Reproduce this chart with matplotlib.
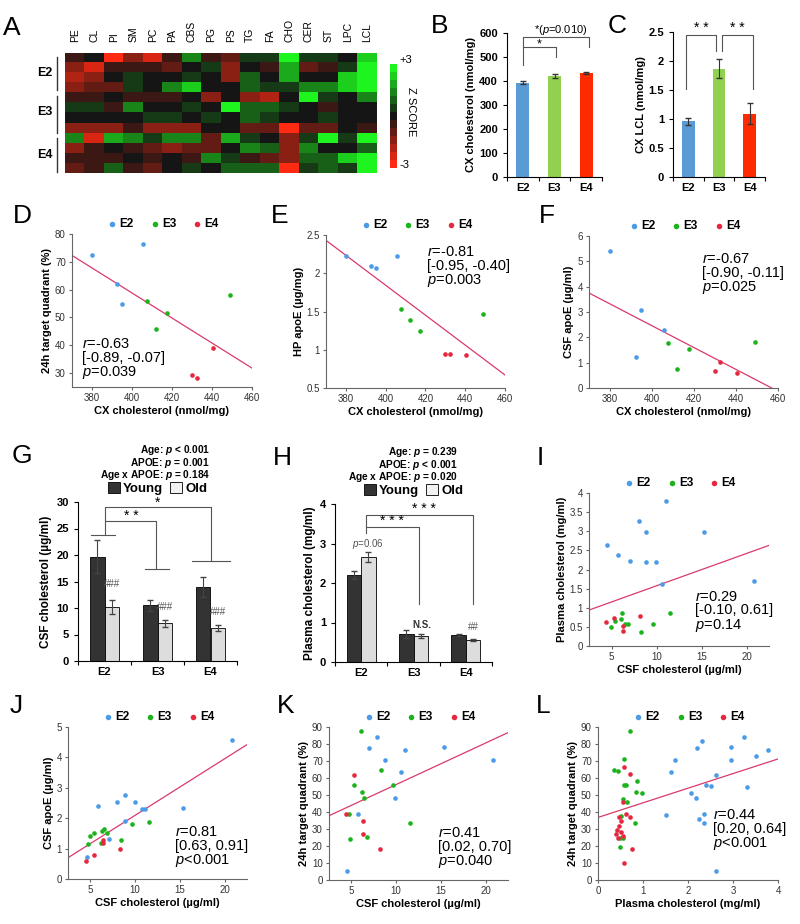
import matplotlib
matplotlib.use("Agg")
import matplotlib.pyplot as plt
import numpy as np
from matplotlib.colors import LinearSegmentedColormap
from matplotlib.patches import Patch
from matplotlib.ticker import FuncFormatter

plt.rcParams['font.family'] = ['Liberation Sans', 'DejaVu Sans']
plt.rcParams['mathtext.fontset'] = 'custom'
plt.rcParams['mathtext.it'] = 'Liberation Sans:italic'
plt.rcParams['mathtext.rm'] = 'Liberation Sans'
plt.rcParams['mathtext.bf'] = 'Liberation Sans:bold:italic'

# ---- data ----
genotypes = ['E2', 'E3', 'E4']
lipids = ['PE', 'CL', 'PI', 'SM', 'PC', 'PA', 'CBS', 'PG', 'PS', 'TG', 'FA',
          'CHO', 'CER', 'ST', 'LPC', 'LCL']
z_scores = [
    [-0.3, -0.1, -3.0, -1.2, -2.2, -0.5, 1.3, -0.6, -1.0, 0.5, 0.4, 3.0, 0.3, 0.3, 0.0, 2.5],
    [-1.2, -2.5, -0.3, -0.5, -0.6, -0.7, 0.0, 0.5, -1.6, 0.0, -0.3, 1.8, -0.7, -0.6, 0.6, 2.7],
    [-1.7, -1.2, 0.1, 0.5, 0.0, 0.2, 0.6, 0.0, -1.6, 1.0, 0.2, 1.8, 0.0, 0.0, 2.2, 3.0],
    [-1.4, -1.0, -0.9, 0.5, 0.0, 1.4, 2.3, -0.1, 0.0, 0.9, 0.5, 0.5, 1.2, 1.3, 2.4, 3.0],
    [-0.3, -0.3, -0.2, -0.3, -0.3, -0.4, 0.0, -1.3, 0.0, -1.3, -1.8, 0.2, 3.0, 0.6, 0.0, 1.3],
    [0.4, 0.3, -0.3, 1.3, 0.1, -0.2, 0.3, 0.1, 3.0, 1.0, 0.7, 0.4, 0.0, -0.4, 0.1, 0.0],
    [0.1, 0.1, 0.0, 0.1, 0.3, 0.5, -0.1, 0.3, 0.0, 1.0, 0.6, -0.2, 0.0, 0.3, 0.0, 0.0],
    [-1.3, -1.3, -1.5, -0.3, -1.5, -1.4, -1.3, -0.2, 0.0, -1.0, -0.8, -3.0, -0.9, -0.7, -0.2, -0.6],
    [1.5, -2.4, 1.7, 1.3, 0.4, 1.2, 1.6, -0.9, 1.7, 0.5, 0.2, -1.6, 0.3, 3.0, 0.4, 3.0],
    [-1.5, -0.5, 0.2, -0.6, -0.8, -1.5, -1.1, -1.1, 0.0, 1.3, 1.1, -1.4, 1.5, 0.2, 0.2, 0.8],
    [-0.3, -0.3, -0.3, -0.1, -0.3, 0.1, -0.6, 1.3, 0.3, -0.5, -0.7, -1.5, 0.9, 1.0, 2.3, 2.8],
    [-0.8, -0.4, 0.8, -0.6, -0.9, 0.0, 0.4, 0.0, 1.1, 1.1, 0.8, -2.6, 0.4, 0.8, 0.6, 2.8],
]

cx_chol_mean = [393, 421, 434]
cx_chol_err = [6, 9, 3]
cx_lcl_mean = [0.96, 1.87, 1.09]
cx_lcl_err = [0.06, 0.16, 0.18]

# cortex cholesterol per mouse (x of D, E, F)
cx_e2 = [380, 392.5, 395, 405.5]
cx_e3 = [407.5, 412, 417.5, 449]
cx_e4 = [430, 432.5, 440.5]
quad_cx_e2 = [72.5, 62, 54.8, 76.3]
quad_cx_e3 = [55.8, 45.8, 51.6, 58]
quad_cx_e4 = [29.3, 28.2, 39]
hp_apoe_e2 = [2.23, 2.09, 2.07, 2.23]
hp_apoe_e3 = [1.53, 1.39, 1.24, 1.47]
hp_apoe_e4 = [0.94, 0.94, 0.93]
csf_apoe_cx_e2 = [5.4, 1.22, 3.07, 2.28]
csf_apoe_cx_e3 = [1.78, 0.75, 1.55, 1.82]
csf_apoe_cx_e4 = [0.66, 1.04, 0.58]
d_line_x, d_line_y = [370, 460], [72.3, 31.8]
e_line_x, e_line_y = [370, 460], [2.43, 0.67]
f_line_x, f_line_y = [370, 457], [3.75, 0.0]

csf_chol_young = [19.7, 10.5, 13.9]
csf_chol_young_err = [3.1, 1.0, 1.9]
csf_chol_old = [10.2, 7.1, 6.2]
csf_chol_old_err = [1.3, 0.6, 0.6]
plasma_young = [2.2, 0.71, 0.69]
plasma_young_err = [0.11, 0.09, 0.02]
plasma_old = [2.66, 0.66, 0.56]
plasma_old_err = [0.12, 0.05, 0.03]
g_stats = ['Age: $\\mathbf{p}$ < 0.001', 'APOE: $\\mathbf{p}$ = 0.001',
           'Age x APOE: $\\mathbf{p}$ = 0.184']
h_stats = ['Age: $\\mathbf{p}$ = 0.239', 'APOE: $\\mathbf{p}$ < 0.001',
           'Age x APOE: $\\mathbf{p}$ = 0.020']

i_e2_x = [4.5, 5.7, 7.0, 8.0, 8.8, 8.8, 9.9, 11.0, 10.6, 15.3, 20.8]
i_e2_y = [2.65, 2.37, 2.22, 3.28, 2.98, 2.2, 2.2, 3.8, 1.62, 2.98, 1.7]
i_e3_x = [4.9, 5.4, 6.1, 6.2, 6.5, 6.8, 8.3, 9.6, 11.5]
i_e3_y = [0.5, 0.65, 0.7, 0.87, 0.58, 0.58, 0.37, 0.58, 0.85]
i_e4_x = [4.4, 5.3, 6.3, 6.3, 8.2]
i_e4_y = [0.63, 0.72, 0.52, 0.4, 0.78]
i_line_x, i_line_y = [2.5, 22.5], [0.94, 2.63]

j_e2_x = [4.6, 5.8, 7.05, 8.0, 8.9, 8.9, 10.0, 10.75, 11.1, 15.4, 20.8]
j_e2_y = [0.71, 2.41, 1.33, 2.53, 2.75, 1.9, 2.53, 2.3, 2.3, 2.34, 4.58]
j_e3_x = [4.78, 5.0, 5.45, 6.2, 6.3, 6.5, 6.9, 8.4, 9.6, 11.5]
j_e3_y = [1.15, 1.42, 1.51, 1.18, 1.57, 1.64, 1.51, 1.27, 1.8, 1.87]
j_e4_x = [4.5, 5.4, 6.4, 6.4, 8.3]
j_e4_y = [0.58, 0.8, 1.29, 1.18, 0.99]
j_line_x, j_line_y = [2.5, 22.5], [0.7, 4.42]

k_e2_x = [4.5, 5.7, 7.0, 7.9, 8.8, 9.9, 10.6, 11.0, 15.3, 20.8]
k_e2_y = [5.5, 39, 77.5, 84, 70.8, 48.5, 63.7, 76.5, 78, 70.8]
k_e3_x = [4.7, 4.9, 5.3, 6.1, 6.2, 6.4, 6.8, 8.3, 9.6, 11.5]
k_e3_y = [39, 24, 56, 87.5, 51.8, 48, 25.5, 65, 56, 33.3]
k_e4_x = [4.4, 5.3, 6.3, 6.3, 8.2]
k_e4_y = [39, 62, 34.5, 27, 18.3]
k_line_x, k_line_y = [2.5, 22.5], [37.8, 86.7]

l_e2_x = [1.5, 1.62, 1.7, 2.07, 2.18, 2.2, 2.25, 2.3, 2.35, 2.35, 2.4, 2.5,
          2.63, 2.63, 2.95, 2.95, 3.25, 3.3, 3.52, 3.78]
l_e2_y = [38.5, 63.8, 70.8, 51, 48.5, 77.5, 36, 81.5, 33.8, 39, 56, 55.3,
          62, 5.5, 78, 70.8, 84, 54.8, 72.8, 76.5]
l_e3_x = [0.35, 0.44, 0.5, 0.48, 0.49, 0.56, 0.58, 0.58, 0.63, 0.64, 0.7,
          0.82, 0.86, 0.85, 0.98, 0.55]
l_e3_y = [65, 64, 37.5, 24.5, 19.5, 47.8, 71.2, 56, 56, 46, 87.5, 33.3,
          58.3, 51.8, 51.2, 25]
l_e4_x = [0.4, 0.42, 0.45, 0.46, 0.47, 0.5, 0.52, 0.55, 0.56, 0.58, 0.58,
          0.62, 0.7, 0.72, 0.76]
l_e4_y = [27, 29.5, 24.5, 36.8, 32, 28.5, 35, 45.8, 25.8, 66.5, 10.2, 39,
          62.2, 37, 18.3]
l_line_x, l_line_y = [0, 4], [36.8, 71.2]

bar_colors = ['#5B9BD5', '#92D050', '#FF2A00']
dot_colors = ['#4C9BE8', '#1DB31D', '#E5283F']
fit_color = '#D93A6B'

W, H = 800, 924
fig = plt.figure(figsize=(W / 100, H / 100), dpi=100)


def rect(l, t, r, b):
    return [l / W, 1 - b / H, (r - l) / W, (b - t) / H]


fmt = FuncFormatter(lambda v, p: f"{v:g}")

# overlay for letters and free labels
ov = fig.add_axes([0, 0, 1, 1])
ov.set_xlim(0, W)
ov.set_ylim(H, 0)
ov.axis('off')
for letter, x, y in [('A', 12, 28), ('B', 440, 26), ('C', 617, 26),
                     ('D', 22, 216), ('E', 280, 216), ('F', 547, 216),
                     ('G', 22, 456), ('H', 282, 458), ('I', 540, 458),
                     ('J', 16, 706), ('K', 286, 706), ('L', 543, 706)]:
    ov.text(x, y, letter, fontsize=19, ha='center', va='center')

# ---- A heatmap ----
cmap = LinearSegmentedColormap.from_list('rg', ['#FF2A12', '#151515', '#1EF51E'], N=13)
axA = fig.add_axes(rect(65, 53, 377, 173))
im = axA.imshow(np.array(z_scores), cmap=cmap, vmin=-3, vmax=3, aspect='auto',
                interpolation='nearest')
axA.xaxis.tick_top()
axA.set_xticks(range(len(lipids)))
axA.set_xticklabels(lipids, rotation=90, fontsize=7.5)
axA.set_yticks([])
axA.tick_params(axis='x', length=0, pad=8)
for s in axA.spines.values():
    s.set_visible(False)
for lab, yc, y0, y1 in [('E2', 73, 57, 90), ('E3', 112, 96, 133), ('E4', 155, 138, 172)]:
    ov.text(45, yc, lab, fontsize=9, fontweight='bold', ha='center', va='center')
    ov.plot([57, 57], [y0, y1], color='#333333', lw=1)

cax = fig.add_axes(rect(390, 64, 397, 168))
cb = fig.colorbar(im, cax=cax, ticks=[])
cb.outline.set_visible(False)
ov.text(399, 60, '+3', fontsize=8, va='center')
ov.text(400, 165, '-3', fontsize=8, va='center')
ov.text(411, 112, 'Z SCORE', fontsize=8, rotation=-90, ha='center', va='center')


def style_bar_axes(ax):
    for s in ['top', 'right']:
        ax.spines[s].set_visible(False)
    ax.set_xlim(-0.5, 2.5)
    ax.set_xticks([-0.5, 0.5, 1.5, 2.5])
    ax.set_xticklabels([])
    ax.set_xticks([0, 1, 2], minor=True)
    ax.set_xticklabels(genotypes, minor=True, fontweight='bold', fontsize=8)
    ax.tick_params(axis='x', which='minor', length=0, pad=4)
    ax.tick_params(axis='x', which='major', length=3, direction='out')
    ax.tick_params(axis='y', labelsize=8, length=3)
    for t in ax.get_yticklabels():
        t.set_fontweight('bold')
    ax.yaxis.set_major_formatter(fmt)


# ---- B ----
axB = fig.add_axes(rect(507, 33, 602, 177))
axB.bar(range(3), cx_chol_mean, width=0.42, color=bar_colors)
axB.errorbar(range(3), cx_chol_mean, yerr=cx_chol_err, fmt='none', ecolor='#333333',
             elinewidth=0.8, capsize=2)
axB.set_ylim(0, 600)
axB.set_yticks(range(0, 601, 100))
style_bar_axes(axB)
axB.set_ylabel('CX cholesterol (nmol/mg)', fontweight='bold', fontsize=8, labelpad=2)
axB.plot([0, 0, 1.05, 1.05], [467, 540, 540, 502], color='#555555', lw=0.8)
axB.plot([0, 0, 2.1, 2.1], [540, 583, 583, 540], color='#555555', lw=0.8)
axB.text(0.52, 552, '*', fontsize=9, ha='center', va='center')
axB.text(1.2, 585, '*($p$=0.010)', fontsize=8, ha='center', va='bottom')

# ---- C ----
axC = fig.add_axes(rect(673, 32, 765, 177))
axC.bar(range(3), cx_lcl_mean, width=0.42, color=bar_colors)
axC.errorbar(range(3), cx_lcl_mean, yerr=cx_lcl_err, fmt='none', ecolor='#333333',
             elinewidth=0.8, capsize=2)
axC.set_ylim(0, 2.5)
axC.set_yticks(np.arange(0, 2.51, 0.5))
style_bar_axes(axC)
axC.set_ylabel('CX LCL (nmol/mg)', fontweight='bold', fontsize=8, labelpad=2)
axC.plot([-0.08, -0.08, 0.9, 0.9], [1.52, 2.45, 2.45, 2.18], color='#555555', lw=0.8)
axC.plot([1.09, 1.09, 2.12, 2.12], [2.18, 2.45, 2.45, 1.52], color='#555555', lw=0.8)
axC.text(0.41, 2.45, '* *', fontsize=10, ha='center', va='bottom')
axC.text(1.6, 2.45, '* *', fontsize=10, ha='center', va='bottom')


def scatter_panel(box, groups, line_x, line_y, xlim, ylim, xticks, yticks,
                  xlabel, ylabel, stats, stats_xy):
    ax = fig.add_axes(rect(*box))
    for (xs, ys), c, lab in zip(groups, dot_colors, genotypes):
        ax.scatter(xs, ys, s=11, color=c, linewidths=0, label=lab, zorder=3)
    ax.plot(line_x, line_y, color=fit_color, lw=0.9, zorder=2)
    ax.set_xlim(*xlim)
    ax.set_ylim(*ylim)
    ax.set_xticks(xticks)
    ax.set_yticks(yticks)
    ax.xaxis.set_major_formatter(fmt)
    ax.yaxis.set_major_formatter(fmt)
    for s in ['top', 'right']:
        ax.spines[s].set_visible(False)
    for s in ['left', 'bottom']:
        ax.spines[s].set_color('#666666')
        ax.spines[s].set_linewidth(0.8)
    ax.tick_params(labelsize=7, length=2.5, color='#666666', labelcolor='#333333', pad=2)
    ax.set_xlabel(xlabel, fontweight='bold', fontsize=8, labelpad=2)
    ax.set_ylabel(ylabel, fontweight='bold', fontsize=8, labelpad=2)
    ax.text(stats_xy[0], stats_xy[1], stats, fontsize=10.5, va='center',
            linespacing=0.95)
    ax.legend(loc='lower center', bbox_to_anchor=(0.5, 0.99), ncol=3, frameon=False,
              handlelength=1.2, handletextpad=0.0, columnspacing=1.2, borderaxespad=0.1,
              prop={'weight': 'bold', 'size': 8.5}, markerscale=1.2)
    return ax


cx_label = 'CX cholesterol (nmol/mg)'
csf_label = 'CSF cholesterol (\u00b5g/ml)'

scatter_panel((72, 234, 252, 387),
              [(cx_e2, quad_cx_e2), (cx_e3, quad_cx_e3), (cx_e4, quad_cx_e4)],
              d_line_x, d_line_y, (370, 460), (25, 80), range(380, 461, 20),
              range(30, 81, 10), cx_label, '24h target quadrant (%)',
              '$r$=-0.63\n[-0.89, -0.07]\n$p$=0.039', (375, 35))
scatter_panel((326, 235, 505, 388),
              [(cx_e2, hp_apoe_e2), (cx_e3, hp_apoe_e3), (cx_e4, hp_apoe_e4)],
              e_line_x, e_line_y, (370, 460), (0.5, 2.5), range(380, 461, 20),
              np.arange(0.5, 2.51, 0.5), cx_label, 'HP apoE (\u00b5g/mg)',
              '$r$=-0.81\n[-0.95, -0.40]\n$p$=0.003', (421, 2.08))
scatter_panel((589, 236, 778, 388),
              [(cx_e2, csf_apoe_cx_e2), (cx_e3, csf_apoe_cx_e3), (cx_e4, csf_apoe_cx_e4)],
              f_line_x, f_line_y, (370, 460), (0, 6), range(380, 461, 20),
              range(0, 7), cx_label, 'CSF apoE (\u00b5g/ml)',
              '$r$=-0.67\n[-0.90, -0.11]\n$p$=0.025', (424, 4.5))


def grouped_bar_panel(box, young, young_err, old, old_err, ylim, yticks, ylabel):
    ax = fig.add_axes(rect(*box))
    x = np.arange(3)
    ax.bar(x - 0.14, young, width=0.28, color='#333333', edgecolor='black', lw=0.6)
    ax.bar(x + 0.14, old, width=0.28, color='#DDDDDD', edgecolor='black', lw=0.6)
    ax.errorbar(x - 0.14, young, yerr=young_err, fmt='none', ecolor='#444444',
                elinewidth=0.8, capsize=2)
    ax.errorbar(x + 0.14, old, yerr=old_err, fmt='none', ecolor='#444444',
                elinewidth=0.8, capsize=2)
    ax.set_ylim(*ylim)
    ax.set_yticks(yticks)
    style_bar_axes(ax)
    ax.set_ylabel(ylabel, fontweight='bold', fontsize=8.5, labelpad=3)
    ax.legend(handles=[Patch(facecolor='#333333', edgecolor='black', lw=0.6, label='Young'),
                       Patch(facecolor='#F2F2F2', edgecolor='black', lw=0.6, label='Old')],
              loc='lower center', bbox_to_anchor=(0.5, 1.0), ncol=2, frameon=False,
              handlelength=0.9, handleheight=0.9, handletextpad=0.25, columnspacing=0.5,
              borderaxespad=0.1, prop={'weight': 'bold', 'size': 9.5})
    return ax


# ---- G ----
axG = grouped_bar_panel((78, 502, 237, 661), csf_chol_young, csf_chol_young_err,
                        csf_chol_old, csf_chol_old_err, (0, 30), range(0, 31, 5),
                        'CSF cholesterol (\u00b5g/ml)')
br = dict(color='#555555', lw=0.8)
axG.plot([-0.25, 0.2], [23.8, 23.8], **br)
axG.plot([0.76, 1.22], [17.3, 17.3], **br)
axG.plot([1.65, 2.36], [18.9, 18.9], **br)
axG.plot([0, 0, 2.0, 2.0], [23.8, 29.0, 29.0, 18.9], **br)
axG.plot([0, 0.98, 0.98], [26.5, 26.5, 17.3], **br)
axG.text(1.0, 28.6, '*', fontsize=10, ha='center', va='bottom')
axG.text(0.5, 26.0, '* *', fontsize=10, ha='center', va='bottom')
for xi, yi in zip([0.15, 1.15, 2.15], [14.6, 10.2, 9.3]):
    axG.text(xi, yi, '###', fontsize=7, color='#555555', ha='center', va='center')
ov.text(210, 462.5, '\n'.join(g_stats), fontsize=7.3, fontweight='bold', ha='right',
        va='center', multialignment='right', linespacing=0.88)

# ---- H ----
axH = grouped_bar_panel((335, 504, 492, 662), plasma_young, plasma_young_err,
                        plasma_old, plasma_old_err, (0, 4), range(0, 5),
                        'Plasma cholesterol (mg/ml)')
axH.plot([0.1, 0.1, 2.13, 2.13], [3.26, 3.73, 3.73, 1.48], **br)
axH.plot([0.1, 1.11, 1.11], [3.43, 3.43, 1.48], **br)
axH.text(1.19, 3.7, '* * *', fontsize=10, ha='center', va='bottom')
axH.text(0.58, 3.4, '* * *', fontsize=10, ha='center', va='bottom')
axH.text(0.13, 2.98, '$p$=0.06', fontsize=7, color='#555555', ha='center', va='center')
axH.text(1.16, 0.94, 'N.S.', fontsize=7, fontweight='bold', color='#333333',
         ha='center', va='center')
axH.text(2.15, 0.88, '##', fontsize=7, color='#555555', ha='center', va='center')
ov.text(458, 464.5, '\n'.join(h_stats), fontsize=7.3, fontweight='bold', ha='right',
        va='center', multialignment='right', linespacing=0.88)

# ---- I ----
scatter_panel((589, 493, 769, 646),
              [(i_e2_x, i_e2_y), (i_e3_x, i_e3_y), (i_e4_x, i_e4_y)],
              i_line_x, i_line_y, (2.5, 22.5), (0, 4), [5, 10, 15, 20],
              np.arange(0, 4.01, 0.5), csf_label, 'Plasma cholesterol (mg/ml)',
              '$r$=0.29\n[-0.10, 0.61]\n$p$=0.14', (14.3, 0.89))

# ---- J, K, L ----
scatter_panel((68, 727, 247, 879),
              [(j_e2_x, j_e2_y), (j_e3_x, j_e3_y), (j_e4_x, j_e4_y)],
              j_line_x, j_line_y, (2.5, 22.5), (0, 5), [5, 10, 15, 20],
              range(0, 6), csf_label, 'CSF apoE (\u00b5g/ml)',
              '$r$=0.81\n[0.63, 0.91]\n$p$<0.001', (14.4, 1.05))
scatter_panel((329, 727, 508, 880),
              [(k_e2_x, k_e2_y), (k_e3_x, k_e3_y), (k_e4_x, k_e4_y)],
              k_line_x, k_line_y, (2.5, 22.5), (0, 90), [5, 10, 15, 20],
              range(0, 91, 10), csf_label, '24h target quadrant (%)',
              '$r$=0.41\n[0.02, 0.70]\n$p$=0.040', (14.7, 18.8))
scatter_panel((598, 727, 778, 880),
              [(l_e2_x, l_e2_y), (l_e3_x, l_e3_y), (l_e4_x, l_e4_y)],
              l_line_x, l_line_y, (0, 4), (0, 90), range(0, 5),
              range(0, 91, 10), 'Plasma cholesterol (mg/ml)', '24h target quadrant (%)',
              '$r$=0.44\n[0.20, 0.64]\n$p$<0.001', (2.56, 29.4))

fig.savefig('out.png', dpi=100)
